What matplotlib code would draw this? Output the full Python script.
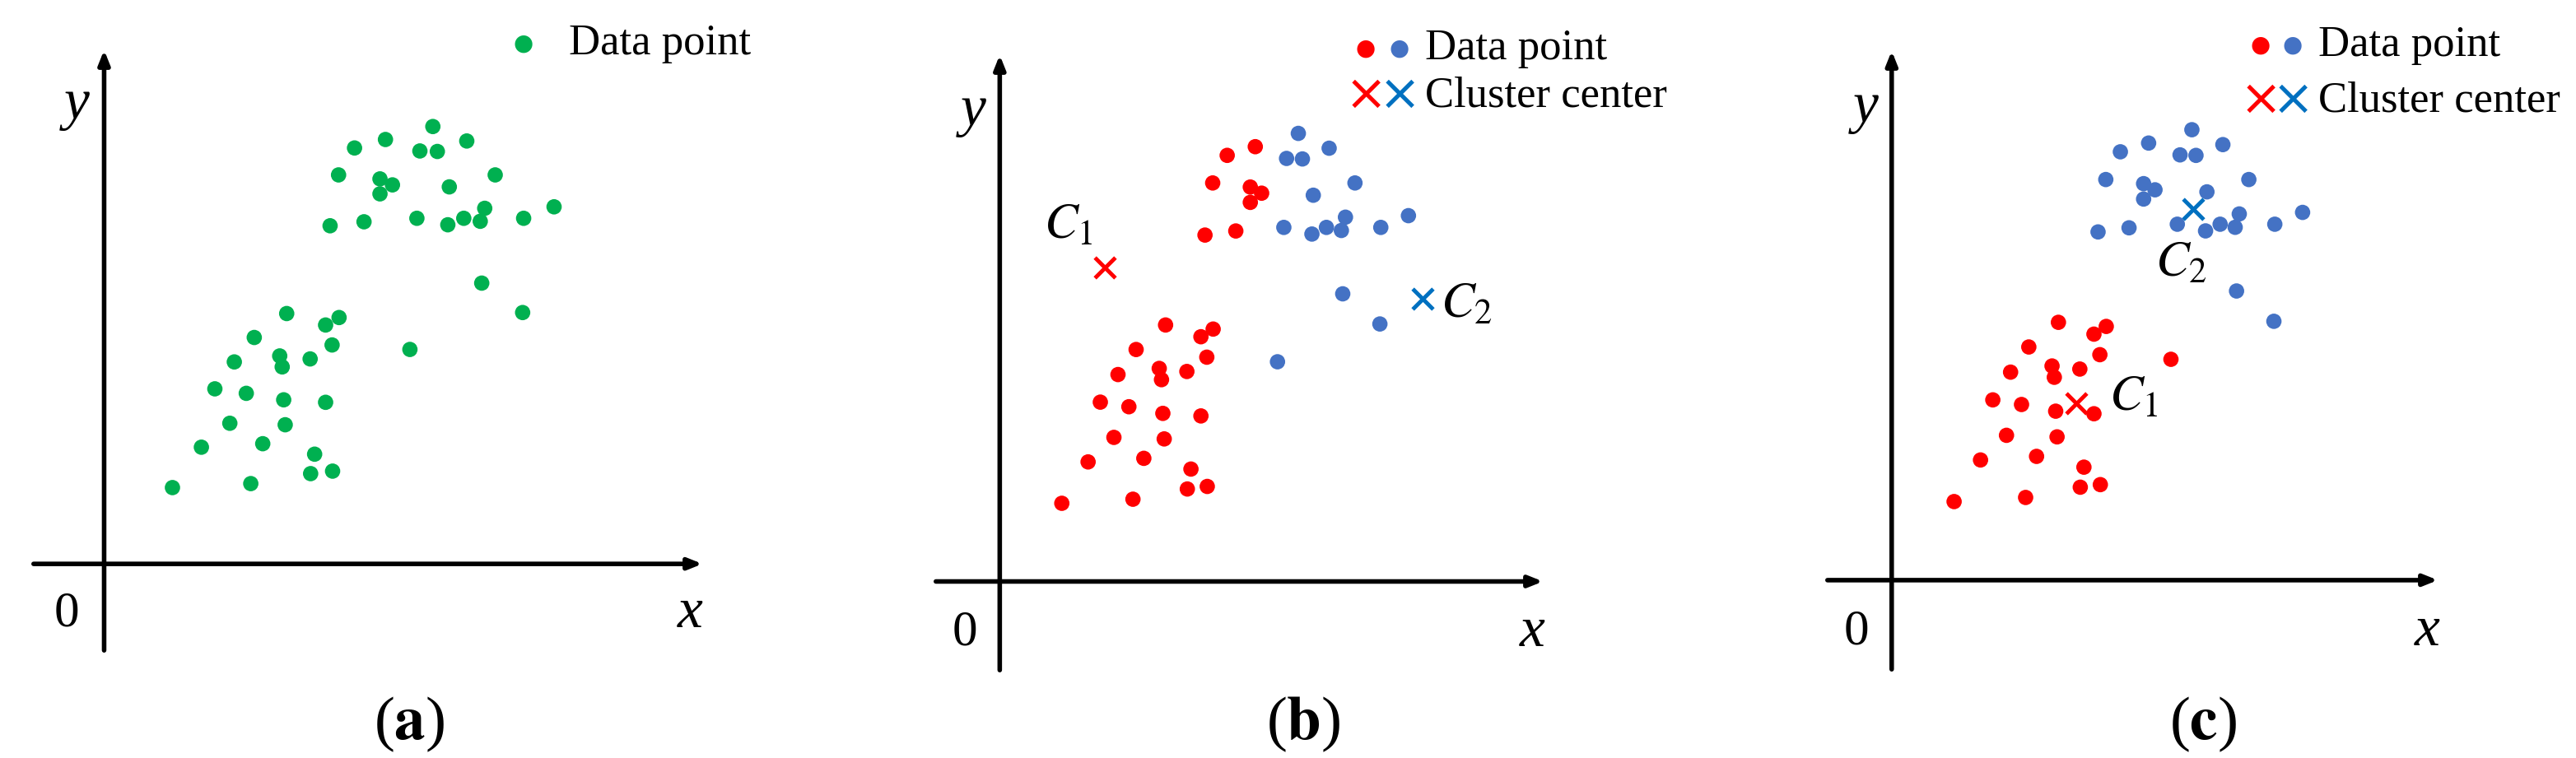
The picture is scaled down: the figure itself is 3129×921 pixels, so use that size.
import numpy as np
import matplotlib
matplotlib.use("Agg")
import matplotlib.pyplot as plt

plt.rcParams["font.family"] = ["Liberation Serif", "DejaVu Serif"]
plt.rcParams["mathtext.fontset"] = "stix"

# data points
pts_x = [1.37, 1.95, 2.22, 2.52, 2.61, 2.85, 3.01, 2.94, 3.18, 3.52, 3.57, 3.60, 3.63, 3.66,
         4.13, 4.14, 4.22, 4.44, 4.44, 4.57, 4.71, 4.58, 6.13,
         4.53, 4.70, 5.02, 5.21, 5.53, 5.53, 5.78, 5.64,
         6.27, 6.33, 6.59, 6.68, 6.89, 6.92, 7.21, 7.27, 7.54, 7.63, 7.84, 8.41, 9.02,
         7.57, 8.39]
pts_y = [1.53, 2.34, 3.51, 2.82, 4.05, 3.42, 4.54, 1.61, 2.41, 4.17, 3.95, 3.29, 2.79, 5.02,
         4.11, 1.81, 2.20, 3.24, 4.79, 4.39, 4.94, 1.86, 4.30,
         6.78, 7.80, 8.34, 6.86, 7.72, 7.42, 7.60, 8.51,
         6.93, 8.28, 8.77, 8.27, 6.80, 7.56, 6.93, 8.48, 6.87, 7.13, 7.80, 6.93, 7.16,
         5.63, 5.04]
# cluster labels: 0 = red, 1 = blue
labels_b = [0] * 22 + [1] + [0] * 8 + [1] * 15
labels_c = [0] * 23 + [1] * 23

centers_b_x = [2.32, 9.34]
centers_b_y = [6.14, 5.54]
centers_c_x = [4.05, 6.61]
centers_c_y = [3.45, 7.22]

W, H = 3129, 921
GREEN = "#00b050"
RED = "#ff0000"
BLUE = "#4472c4"
XBLUE = "#0070c0"

fig = plt.figure(figsize=(W / 100, H / 100), dpi=100)

# axes boxes in pixels: left, right, top, bottom
boxes = [(38, 856, 58, 793), (1134, 1877, 64, 817), (2217, 2964, 59, 816)]


def make_ax(box):
    l, r, t, b = box
    ax = fig.add_axes([l / W, 1 - b / H, (r - l) / W, (b - t) / H])
    ax.set_xlim(-1.46, 12.04)
    ax.set_ylim(-1.78, 10.35)
    ax.axis("off")
    ax.annotate("", xy=(12.04, 0), xytext=(-1.46, 0),
                arrowprops=dict(arrowstyle="-|>,head_length=1.0,head_width=0.4", lw=4, color="black"))
    ax.annotate("", xy=(0, 10.35), xytext=(0, -1.78),
                arrowprops=dict(arrowstyle="-|>,head_length=1.0,head_width=0.4", lw=4, color="black"))
    ax.text(-0.3, 9.2, "y", style="italic", fontsize=50, ha="right", va="center")
    ax.text(11.75, -1.0, "x", style="italic", fontsize=50, ha="center", va="center")
    ax.text(-0.5, -1.0, "0", fontsize=44, ha="right", va="center")
    return ax


px = np.array(pts_x)
py = np.array(pts_y)
S = 180

# (a)
ax = make_ax(boxes[0])
ax.scatter(px, py, s=S, color=GREEN, edgecolors="none")
fig.text(636 / W, 1 - 53 / H, "\u25CF", color=GREEN, fontsize=20, ha="center", va="center", family="DejaVu Sans")
fig.text(691 / W, 1 - 53 / H, "Data point", fontsize=38, ha="left", va="center")


def cluster_panel(box, labels, cx, cy, lab_off):
    ax = make_ax(box)
    lab = np.array(labels)
    ax.scatter(px[lab == 0], py[lab == 0], s=S, color=RED, edgecolors="none")
    ax.scatter(px[lab == 1], py[lab == 1], s=S, color=BLUE, edgecolors="none")
    ax.scatter(cx[0], cy[0], marker="x", s=320, linewidths=3.5, color=RED)
    ax.scatter(cx[1], cy[1], marker="x", s=320, linewidths=3.5, color=XBLUE)
    for i, name in enumerate(["$C_1$", "$C_2$"]):
        ax.annotate(name, (cx[i], cy[i]), xytext=lab_off[i], textcoords="offset points",
                    fontsize=44, ha="center", va="center")
    return ax


def legend2(xr, xb, xt, y1, y2):
    fig.text(xr / W, 1 - y1 / H, "\u25CF", color=RED, fontsize=20, ha="center", va="center", family="DejaVu Sans")
    fig.text(xb / W, 1 - y1 / H, "\u25CF", color=BLUE, fontsize=20, ha="center", va="center", family="DejaVu Sans")
    fig.text(xt / W, 1 - y1 / H, "Data point", fontsize=38, ha="left", va="center")
    fig.text(xr / W, 1 - y2 / H, "\u00D7", color=RED, fontsize=44, ha="center", va="center", family="DejaVu Sans")
    fig.text(xb / W, 1 - y2 / H, "\u00D7", color=XBLUE, fontsize=44, ha="center", va="center", family="DejaVu Sans")
    fig.text(xt / W, 1 - y2 / H, "Cluster center", fontsize=38, ha="left", va="center")


cluster_panel(boxes[1], labels_b, centers_b_x, centers_b_y, [(-32, 36), (38, -6)])
legend2(1659, 1700, 1731, 59, 116)
cluster_panel(boxes[2], labels_c, centers_c_x, centers_c_y, [(50, 4), (-10, -48)])
legend2(2746, 2785, 2816, 55, 122)

# panel captions
for xc, letter in [(497, "a"), (1583, "b"), (2676, "c")]:
    fig.text(xc / W, 1 - 880 / H, r"($\mathbf{" + letter + r"}$)", fontsize=54, ha="center", va="center")

fig.savefig("out.png", dpi=100, facecolor="white")
